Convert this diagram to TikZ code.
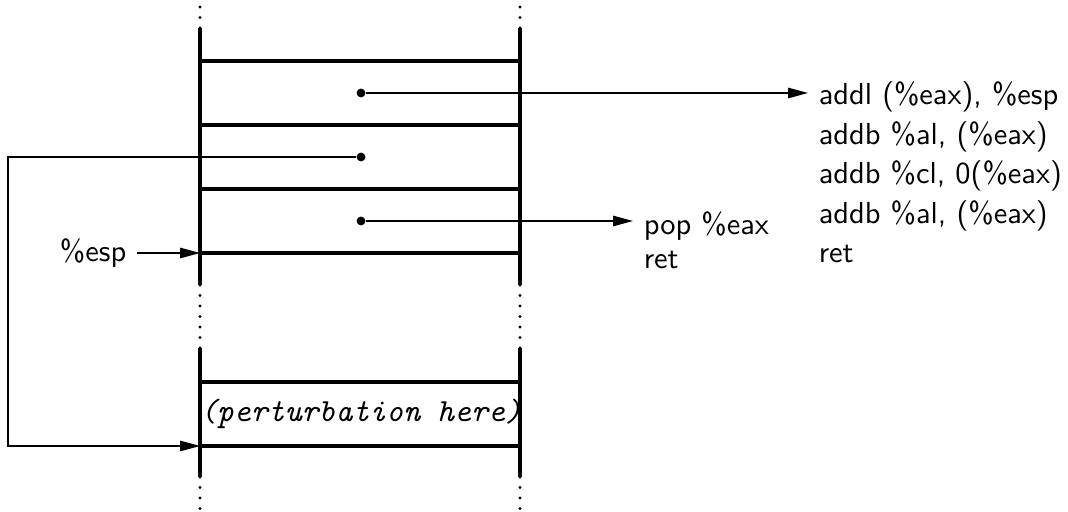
\documentclass[tikz,border=0pt]{standalone}
\usetikzlibrary{arrows.meta}
\begin{document}
\begin{tikzpicture}[x=0.3286pt,y=-0.3286pt,
  wall/.style={line width=1pt},
  gap/.style={line width=1pt,line cap=round,dash pattern=on 0pt off 3.45pt},
  ptr/.style={line width=0.45pt,-{Triangle[length=6.5pt,width=3.4pt]}},
  slot/.style={circle,fill,inner sep=0pt,minimum size=2.9pt},
  gadget/.style={font=\sffamily,align=left,anchor=north west}]
            \useasboundingbox (0,0) rectangle (1068,512);

            % Drawing stack walls
            \draw [wall] (200,28) -- (200,285);%
            \draw [wall] (520,28) -- (520,285);%
            \draw [wall] (200,348) -- (200,477);%
            \draw [wall] (520,348) -- (520,477);%

            % Drawing elided parts of the stack
            \foreach \x in {200,520} {
              \draw [gap] (\x,28) -- (\x,0);%
              \draw [gap] (\x,285) -- (\x,348);%
              \draw [gap] (\x,477) -- (\x,512);%
            }

            % Drawing slot boundaries
            \foreach \y in {61,125,189,253,382,446}
              \draw [wall] (200,\y) -- (520,\y);%

            % Marking return addresses
            \node [slot] (ret1) at (361,93) {};
            \node [slot] (ret2) at (361,157) {};
            \node [slot] (ret3) at (361,221) {};

            % Gadgets
            \node [gadget,font=\sffamily\fontsize{10}{13}\selectfont] (gadget1) at (808,71)
              {addl (\%eax), \%esp\\addb \%al, (\%eax)\\addb \%cl, 0(\%eax)\\addb \%al, (\%eax)\\ret};
            \node [gadget,font=\sffamily\fontsize{10}{11}\selectfont] (gadget2) at (633,201) {pop \%eax\\ret};

            % Stack pointer and perturbed slot
            \node [font=\sffamily,anchor=east] (esp) at (137,253) {\%esp};
            \node [font=\ttfamily\itshape\fontsize{10.6}{12}\selectfont] (pert) at (361,414) {(perturbation here)};
            \coordinate (top) at (200,253);
            \coordinate (hit) at (200,446);
            \coordinate (loop) at (8,446);

            % Drawing pointers
            \draw [ptr] (ret1) -- (ret1 -| gadget1.west);%
            \draw [ptr] (ret3) -- (ret3 -| gadget2.west);%
            \draw [ptr] (esp) -- (top);%
            \draw [ptr] (ret2) -- (ret2 -| loop) -- (loop) -- (hit);%
\end{tikzpicture}
\end{document}
